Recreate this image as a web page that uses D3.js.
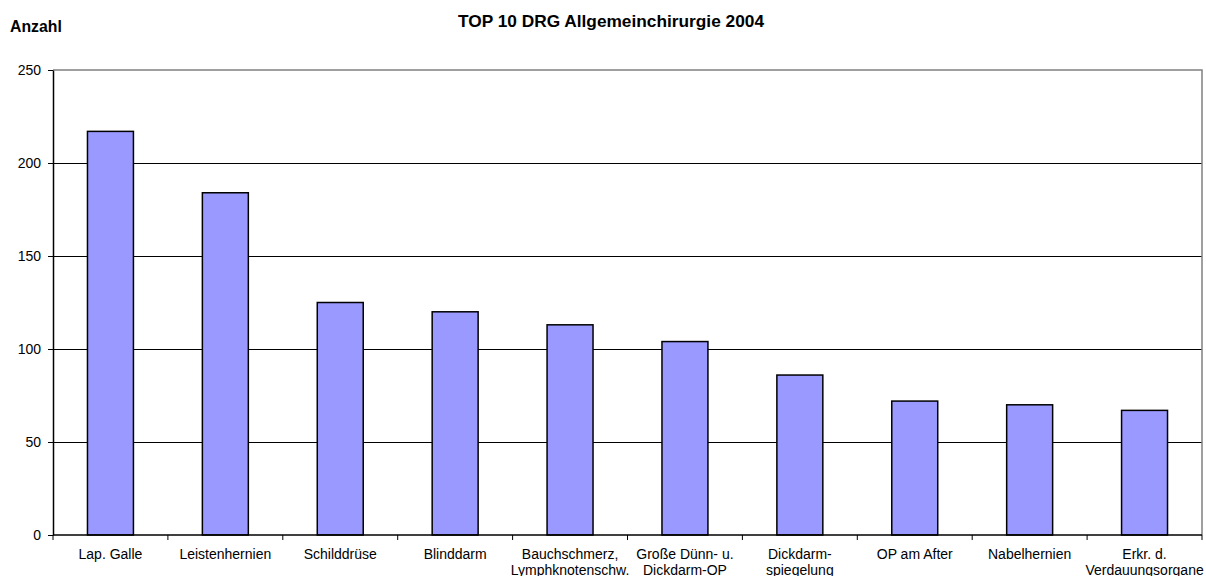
<!DOCTYPE html>
<html><head><meta charset="utf-8">
<script src="https://cdn.jsdelivr.net/npm/d3@7"></script>
<style>body{margin:0;background:#fff}svg{display:block;font-family:"Liberation Sans",Arial,sans-serif}</style>
</head><body>
<svg id="c" width="1206" height="576"></svg>
<script>
const categories = [
  ["Lap. Galle"],
  ["Leistenhernien"],
  ["Schilddrüse"],
  ["Blinddarm"],
  ["Bauchschmerz,", "Lymphknotenschw."],
  ["Große Dünn- u.", "Dickdarm-OP"],
  ["Dickdarm-", "spiegelung"],
  ["OP am After"],
  ["Nabelhernien"],
  ["Erkr. d.", "Verdauungsorgane"]
];
const values = [217, 184, 125, 120, 113, 104, 86, 72, 70, 67];
const yTicks = [0, 50, 100, 150, 200, 250];
const title = "TOP 10 DRG Allgemeinchirurgie 2004";
const yTitle = "Anzahl";

const svg = d3.select("#c");
const L = 53, R = 1202, T = 70, B = 535;
const keys = categories.map((c, i) => i);
const x = d3.scaleBand().domain(keys).range([L, R]).paddingInner(0.6).paddingOuter(0.3);
const xb = d3.scaleBand().domain(keys).range([L, R]);
const y = d3.scaleLinear().domain([0, 250]).range([B, T]);

// gridlines
svg.append("g").selectAll("line").data(yTicks.filter(t => t > 0 && t < 250)).join("line")
  .attr("x1", L).attr("x2", R).attr("y1", d => y(d)).attr("y2", d => y(d))
  .attr("stroke", "#000").attr("stroke-width", 1).attr("shape-rendering", "crispEdges");
// plot border (top/right gray)
svg.append("path").attr("d", `M${L},${y(250)}H${R}V${B}`).attr("fill", "none")
  .attr("stroke", "#808080").attr("stroke-width", 1.5);

// bars
svg.append("g").selectAll("rect").data(values).join("rect")
  .attr("x", (d, i) => x(i)).attr("width", x.bandwidth())
  .attr("y", d => y(d)).attr("height", d => y(0) - y(d))
  .attr("fill", "#9999FF").attr("stroke", "#000").attr("stroke-width", 1.5);

// y axis
const ya = svg.append("g").attr("transform", `translate(${L},0)`)
  .call(d3.axisLeft(y).tickValues(yTicks).tickSize(5).tickPadding(7).tickSizeOuter(0));
ya.select(".domain").attr("stroke", "#000").attr("stroke-width", 1.5);
ya.selectAll(".tick line").attr("stroke", "#000");
ya.selectAll(".tick text").attr("font-size", 14).attr("fill", "#000").attr("font-family", "Liberation Sans, Arial, sans-serif");

// x axis
const xa = svg.append("g").attr("transform", `translate(0,${B})`);
xa.append("line").attr("x1", L).attr("x2", R).attr("stroke", "#000").attr("stroke-width", 1.5);
xa.selectAll("line.tk").data(d3.range(11)).join("line").attr("class", "tk")
  .attr("x1", i => L + i * xb.step()).attr("x2", i => L + i * xb.step())
  .attr("y1", 0).attr("y2", 5).attr("stroke", "#000");
const lbl = xa.selectAll("text").data(categories).join("text")
  .attr("text-anchor", "middle").attr("font-size", 14).attr("fill", "#000")
  .attr("x", (d, i) => xb(i) + xb.bandwidth() / 2).attr("y", 24);
lbl.selectAll("tspan").data(d => d).join("tspan")
  .attr("x", function() { return d3.select(this.parentNode).attr("x"); })
  .attr("dy", (d, j) => j === 0 ? 0 : 16).text(d => d);

// titles
svg.append("text").attr("x", 611).attr("y", 26.5).attr("text-anchor", "middle")
  .attr("font-size", 17.3).attr("font-weight", "bold").text(title);
svg.append("text").attr("x", 10).attr("y", 32.3)
  .attr("font-size", 15.8).attr("font-weight", "bold").text(yTitle);
</script>
</body></html>
